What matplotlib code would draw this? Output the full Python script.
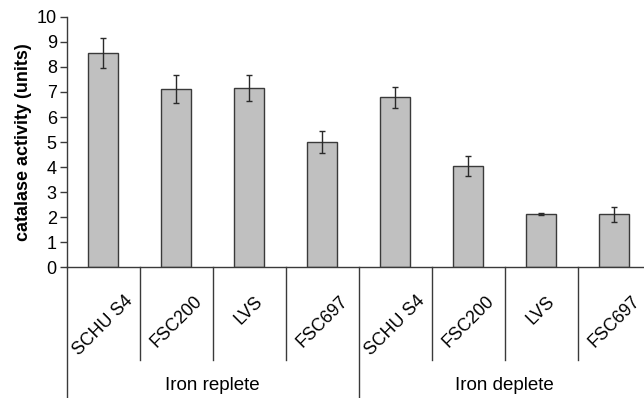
import matplotlib
matplotlib.use("Agg")
import matplotlib.pyplot as plt
import matplotlib.transforms as mtransforms

plt.rcParams['font.family'] = ['Liberation Sans', 'DejaVu Sans']

strains = ["SCHU S4", "FSC200", "LVS", "FSC697", "SCHU S4", "FSC200", "LVS", "FSC697"]
groups = ["Iron replete", "Iron deplete"]
activity = [8.55, 7.11, 7.16, 5.02, 6.78, 4.03, 2.13, 2.13]
errors = [0.60, 0.55, 0.50, 0.44, 0.40, 0.40, 0.04, 0.30]
yticks = list(range(0, 11))

fig = plt.figure(figsize=(6.44, 3.98), dpi=100)
ax = fig.add_axes([0.1033, 0.3279, 0.9068, 0.630])

edge = "#3a3a3a"
x = list(range(len(strains)))
ax.bar(x, activity, width=0.4, color="#c0c0c0", edgecolor=edge, linewidth=1.0,
       yerr=errors, error_kw=dict(ecolor="#2a2a2a", elinewidth=1.0, capsize=2.5, capthick=1.0))

ax.set_xlim(-0.5, 7.5)
ax.set_ylim(0, 10)
ax.set_yticks(yticks)
ax.set_yticklabels([str(t) for t in yticks], fontsize=13)
ax.set_xticks([])
for s in ("top", "right"):
    ax.spines[s].set_visible(False)
for s in ("left", "bottom"):
    ax.spines[s].set_color(edge)
    ax.spines[s].set_linewidth(1.0)
ax.tick_params(axis="y", direction="out", length=5, width=1.0, color=edge, pad=2)

# category dividers below the axis (data x, axes y)
trans = mtransforms.blended_transform_factory(ax.transData, ax.transAxes)
for xs in (0.5, 1.5, 2.5, 4.5, 5.5, 6.5):
    ax.plot([xs, xs], [0, -0.369], color=edge, lw=1.0, transform=trans, clip_on=False)
for xs in (-0.5, 3.5, 7.5):
    ax.plot([xs, xs], [0, -0.53], color=edge, lw=1.0, transform=trans, clip_on=False)

# rotated strain labels
for xi, name in zip(x, strains):
    ax.text(xi, -0.100, name, transform=trans, rotation=45, ha="center", va="top",
            fontsize=12.8)

# condition labels
for gi, g in enumerate(groups):
    ax.text(gi * 4 + 1.5, -0.4725, g, transform=trans, ha="center", va="center",
            fontsize=13.5)

fig.text(0.037, 0.642, "catalase activity (units)", rotation=90, ha="center", va="center",
         fontsize=13, fontweight="bold")

fig.savefig("out.png", dpi=100)
